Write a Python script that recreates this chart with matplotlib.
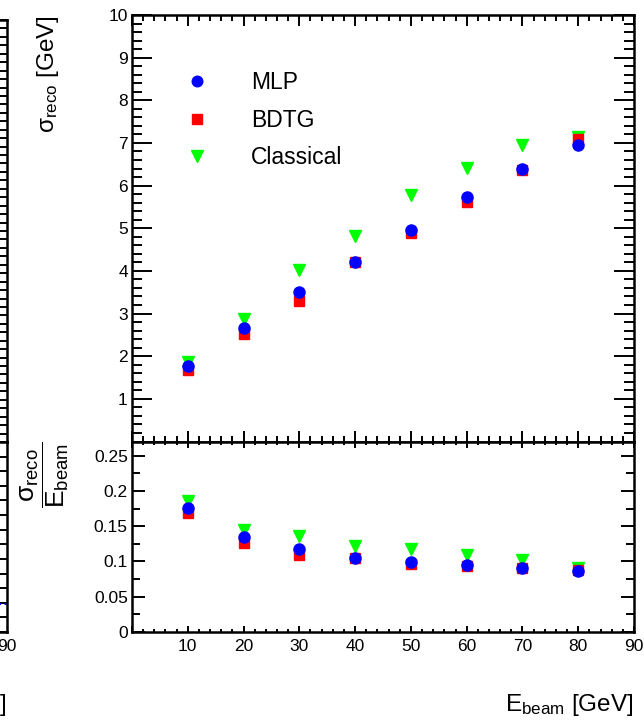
import matplotlib
matplotlib.use('Agg')
import matplotlib.pyplot as plt
from matplotlib.ticker import MultipleLocator, FuncFormatter

plt.rcParams['font.family'] = ['Liberation Sans', 'DejaVu Sans']
plt.rcParams['mathtext.fontset'] = 'custom'
plt.rcParams['mathtext.rm'] = 'Liberation Sans'
plt.rcParams['mathtext.it'] = 'Liberation Sans:italic'
plt.rcParams['mathtext.bf'] = 'Liberation Sans:bold'

# beam energies and fitted resolutions
energy = [10, 20, 30, 40, 50, 60, 70, 80]
sigma_mlp = [1.76, 2.66, 3.51, 4.21, 4.97, 5.73, 6.38, 6.96]
sigma_bdtg = [1.67, 2.53, 3.30, 4.20, 4.90, 5.61, 6.37, 7.09]
sigma_classical = [1.87, 2.88, 4.03, 4.83, 5.77, 6.41, 6.96, 7.15]

ratio_mlp = [0.176, 0.134, 0.117, 0.105, 0.099, 0.095, 0.091, 0.087]
ratio_bdtg = [0.168, 0.126, 0.109, 0.105, 0.097, 0.093, 0.091, 0.088]
ratio_classical = [0.186, 0.145, 0.136, 0.122, 0.117, 0.109, 0.102, 0.091]

# piece of the neighbouring plot that is cut off on the left
frag_line_level = 1.9

BLUE = '#0000ff'
RED = '#ff0000'
GREEN = '#00ff00'
W, H = 644, 727

fig = plt.figure(figsize=(W / 100, H / 100), dpi=100)

left = 132 / W
width = (634 - 132) / W
ax_top = fig.add_axes([left, 1 - 441.5 / H, width, (441.5 - 15) / H])
ax_bot = fig.add_axes([left, 1 - 632 / H, width, (632 - 441.5) / H])


def style_frame(ax):
    for s in ax.spines.values():
        s.set_linewidth(1.8)
    ax.tick_params(which='both', direction='in', top=True, right=True,
                   width=1.4, labelsize=12.5, colors='black')


# upper panel: sigma_reco
ax = ax_top
ax.plot(energy, sigma_classical, 'v', color=GREEN, markersize=8.5, label='Classical')
ax.plot(energy, sigma_bdtg, 's', color=RED, markersize=7.5, label='BDTG')
ax.plot(energy, sigma_mlp, 'o', color=BLUE, markersize=8, label='MLP')
ax.set_xlim(0, 90)
ax.set_ylim(0, 10)
style_frame(ax)
ax.xaxis.set_major_locator(MultipleLocator(10))
ax.xaxis.set_minor_locator(MultipleLocator(2))
ax.yaxis.set_major_locator(MultipleLocator(1))
ax.yaxis.set_minor_locator(MultipleLocator(0.2))
ax.tick_params(axis='y', which='major', length=14.4, pad=3)
ax.tick_params(axis='y', which='minor', length=7.2)
ax.tick_params(axis='x', which='major', length=7.9)
ax.tick_params(axis='x', which='minor', length=4)
ax.set_xticklabels([])
ax.yaxis.set_major_formatter(FuncFormatter(lambda v, p: '' if v == 0 else '%g' % v))
handles, labels = ax.get_legend_handles_labels()
ax.legend(handles[::-1], labels[::-1], loc='upper left',
          bbox_to_anchor=(186 / W, 1 - 71 / H), bbox_transform=fig.transFigure,
          frameon=False, fontsize=16.5, handlelength=1.0, handletextpad=1.85,
          borderpad=0, borderaxespad=0, labelspacing=0.64, numpoints=1,
          markerscale=0.95)

# lower panel: sigma_reco / E_beam
ax = ax_bot
ax.plot(energy, ratio_classical, 'v', color=GREEN, markersize=8.5)
ax.plot(energy, ratio_bdtg, 's', color=RED, markersize=7.5)
ax.plot(energy, ratio_mlp, 'o', color=BLUE, markersize=8)
ax.set_xlim(0, 90)
ax.set_ylim(0, 0.27)
style_frame(ax)
ax.xaxis.set_major_locator(MultipleLocator(10))
ax.xaxis.set_minor_locator(MultipleLocator(2))
ax.yaxis.set_major_locator(MultipleLocator(0.05))
ax.yaxis.set_minor_locator(MultipleLocator(0.025))
ax.tick_params(axis='y', which='major', length=9.4, pad=3)
ax.tick_params(axis='y', which='minor', length=5.8)
ax.tick_params(axis='x', which='major', length=4.3, pad=5)
ax.tick_params(axis='x', which='minor', length=2.5)
ax.xaxis.set_major_formatter(FuncFormatter(lambda v, p: '' if v == 0 else '%g' % v))
ax.yaxis.set_major_formatter(FuncFormatter(lambda v, p: '%g' % v))

# axis titles
fig.text(61 / W, 1 - 15 / H, 'σ$_{\\mathrm{reco}}$ [GeV]', rotation=90,
         ha='right', va='top', fontsize=17.5)
fig.text(45 / W, 1 - 441 / H, r'$\dfrac{\mathrm{σ}_{\mathrm{reco}}}{\mathrm{E}_{\mathrm{beam}}}$',
         rotation=90, ha='center', va='top', fontsize=19)
fig.text(634 / W, 1 - 711.5 / H, 'E$_{\\mathrm{beam}}$ [GeV]', ha='right',
         va='baseline', fontsize=17.5)

# neighbouring plot, mostly outside the canvas
frag_w = 0.3 + 6.5 / W
fr_top = fig.add_axes([-0.3, 1 - 442 / H, frag_w, (442 - 20) / H])
fr_bot = fig.add_axes([-0.3, 1 - 632 / H, frag_w, (632 - 442) / H])
for fr, top_lim in [(fr_top, 10), (fr_bot, 13)]:
    fr.set_xlim(0, 90)
    fr.set_ylim(0, top_lim)
    for s in fr.spines.values():
        s.set_linewidth(1.8)
    fr.yaxis.set_major_locator(MultipleLocator(1))
    fr.tick_params(axis='y', which='both', direction='in', left=False, right=True,
                   labelleft=False, length=10, width=1.4)
    fr.set_xticks([90])
    fr.tick_params(axis='x', direction='in', labelsize=12.5, pad=5, length=4)
fr_top.yaxis.set_minor_locator(MultipleLocator(0.2))
fr_top.tick_params(axis='y', which='minor', direction='in', right=True, left=False,
                   length=10, width=1.4)
fr_top.set_xticklabels([])
fr_bot.axhline(frag_line_level, color=BLUE, linestyle=':', linewidth=1.5)
fig.text(6.5 / W, 1 - 711.5 / H, 'E$_{\\mathrm{beam}}$ [GeV]', ha='right',
         va='baseline', fontsize=17.5)

fig.savefig('out.png', dpi=100)
